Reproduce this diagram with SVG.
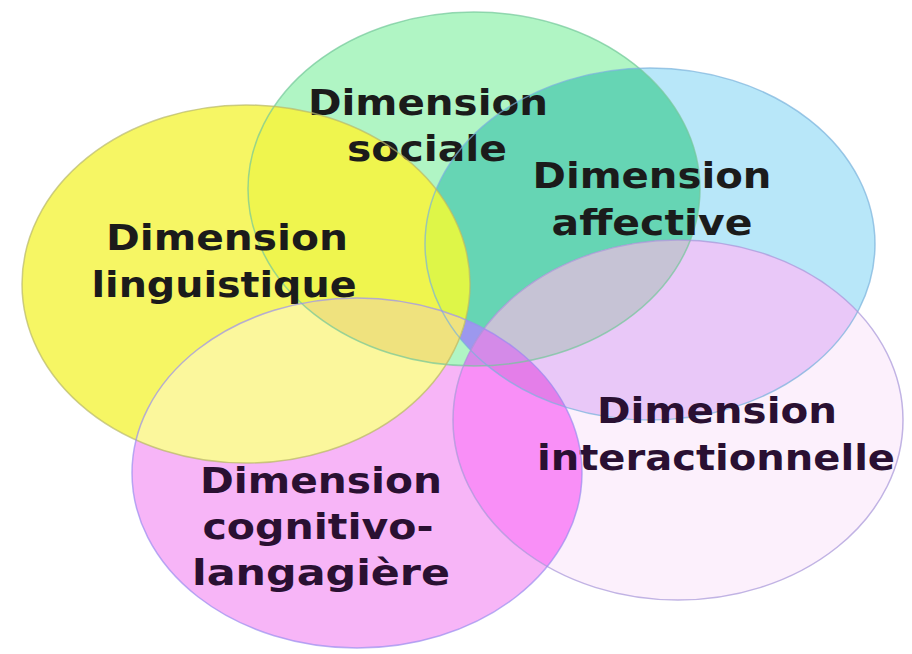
<svg xmlns="http://www.w3.org/2000/svg" xmlns:xlink="http://www.w3.org/1999/xlink" width="912" height="654" viewBox="0 0 912 654">
  <defs>
    <ellipse id="eY" cx="246" cy="284" rx="224" ry="179"/>
    <ellipse id="eG" cx="474" cy="189" rx="226" ry="177"/>
    <ellipse id="eB" cx="650" cy="244" rx="225" ry="176"/>
    <ellipse id="eI" cx="678" cy="420" rx="225" ry="180"/>
    <ellipse id="eP" cx="357" cy="473" rx="225" ry="175"/>
    <clipPath id="cY"><ellipse cx="246" cy="284" rx="224" ry="179"/></clipPath>
    <clipPath id="cG"><ellipse cx="474" cy="189" rx="226" ry="177"/></clipPath>
    <clipPath id="cB"><ellipse cx="650" cy="244" rx="225" ry="176"/></clipPath>
    <clipPath id="cI"><ellipse cx="678" cy="420" rx="225" ry="180"/></clipPath>
    <clipPath id="cP"><ellipse cx="357" cy="473" rx="225" ry="175"/></clipPath>
    <style>
      .lbl { font-family: "DejaVu Sans", "Liberation Sans", sans-serif; font-weight: bold; font-size: 36px; text-anchor: middle; }
      .dk { fill: #1b1b1b; }
      .pu { fill: #2a1032; }
      .ring { fill: none; stroke-width: 1.5; stroke-opacity: 0.7; }
    </style>
  </defs>
  <rect width="912" height="654" fill="#ffffff"/>
  <g id="fills">
    <use href="#eP" fill="#f7b5f7"/>
    <use href="#eI" fill="#fcf0fc"/>
    <use href="#eG" fill="#b0f5c4"/>
    <use href="#eB" fill="#b8e7f9"/>
    <use href="#eY" fill="#f6f664"/>
    <use href="#eG" fill="#66d5b4" clip-path="url(#cB)"/>
    <use href="#eB" fill="#e9c8f8" clip-path="url(#cI)"/>
    <use href="#eG" fill="#c6c3d5" clip-path="url(#cI)"/>
    <use href="#eP" fill="#9c98ee" clip-path="url(#cB)"/>
    <use href="#eP" fill="#f98ff7" clip-path="url(#cI)"/>
    <g clip-path="url(#cI)"><use href="#eP" fill="#e47ee9" clip-path="url(#cB)"/></g>
    <g clip-path="url(#cI)"><use href="#eP" fill="#d48ae8" clip-path="url(#cG)"/></g>
    <use href="#eY" fill="#eff54e" clip-path="url(#cG)"/>
    <use href="#eY" fill="#def648" clip-path="url(#cB)"/>
    <use href="#eY" fill="#fbf79c" clip-path="url(#cP)"/>
    <g clip-path="url(#cP)"><use href="#eY" fill="#efe27e" clip-path="url(#cG)"/></g>
  </g>
  <g id="node-sociale">
    <use href="#eG" class="ring" stroke="#74c79a"/>
    <text class="lbl dk" x="428" y="115" textLength="240" lengthAdjust="spacingAndGlyphs">Dimension</text>
    <text class="lbl dk" x="427" y="161" textLength="160" lengthAdjust="spacingAndGlyphs">sociale</text>
  </g>
  <g id="node-affective">
    <use href="#eB" class="ring" stroke="#7ab2dc"/>
    <text class="lbl dk" x="652" y="188" textLength="239" lengthAdjust="spacingAndGlyphs">Dimension</text>
    <text class="lbl dk" x="652" y="235" textLength="201" lengthAdjust="spacingAndGlyphs">affective</text>
  </g>
  <g id="node-linguistique">
    <use href="#eY" class="ring" stroke="#b8b86a"/>
    <text class="lbl dk" x="227" y="250" textLength="242" lengthAdjust="spacingAndGlyphs">Dimension</text>
    <text class="lbl dk" x="224" y="297" textLength="265" lengthAdjust="spacingAndGlyphs">linguistique</text>
  </g>
  <g id="node-interactionnelle">
    <use href="#eI" class="ring" stroke="#a696d8"/>
    <text class="lbl pu" x="717" y="423" textLength="240" lengthAdjust="spacingAndGlyphs">Dimension</text>
    <text class="lbl pu" x="716" y="470" textLength="358" lengthAdjust="spacingAndGlyphs">interactionnelle</text>
  </g>
  <g id="node-cognitivo">
    <use href="#eP" class="ring" stroke="#9a8ff0"/>
    <text class="lbl pu" x="321" y="493" textLength="242" lengthAdjust="spacingAndGlyphs">Dimension</text>
    <text class="lbl pu" x="318" y="539" textLength="231" lengthAdjust="spacingAndGlyphs">cognitivo-</text>
    <text class="lbl pu" x="321" y="585" textLength="258" lengthAdjust="spacingAndGlyphs">langagière</text>
  </g>
  <g id="connectors"/>
</svg>
